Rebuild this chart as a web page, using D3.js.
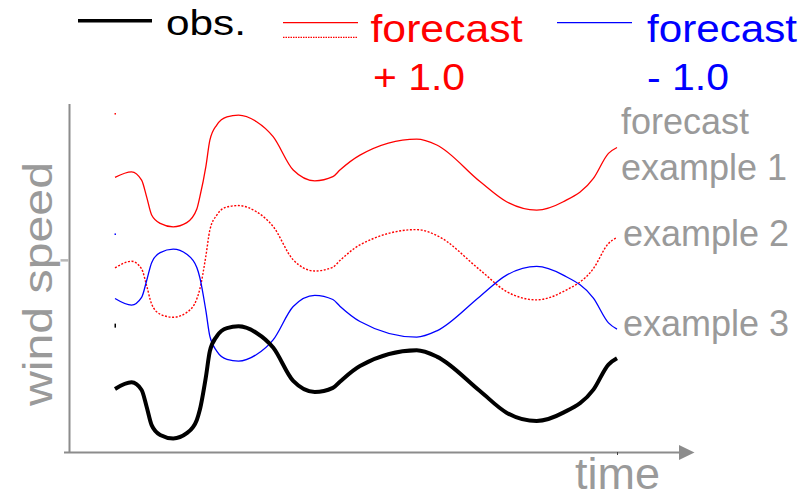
<!DOCTYPE html>
<html>
<head>
<meta charset="utf-8">
<script src="https://cdn.jsdelivr.net/npm/d3@7"></script>
<style>
  html, body { margin: 0; padding: 0; background: #fff; }
  svg { display: block; font-family: "Liberation Sans", Arial, sans-serif; }
</style>
</head>
<body>
<svg id="chart" width="805" height="499"></svg>
<script>
// ---------- data ----------
const time = [0, 3.3, 5.3, 6.3, 7.3, 9.0, 11.6, 14.3, 16.3, 16.9, 18.1, 18.9, 20.3, 22.3, 24.6,
  28.2, 31.5, 35.5, 39.8, 43.4, 44.8, 48.8, 60.1, 64.1, 72.7, 78.0, 84.0, 89.3, 95.3, 98.3, 100];

const obs = [18.4, 20.3, 18.1, 13.3, 8.0, 5.2, 4.2, 5.7, 9.5, 12.4, 21.8, 29.3, 33.6, 35.9, 36.4,
  34.5, 30.3, 20.7, 17.5, 18.7, 20.5, 25.0, 29.5, 27.7, 17.8, 11.6, 9.2, 11.6, 18.2, 25.4, 27.2];

const example1 = [79.2, 80.8, 78.4, 73.6, 68.4, 66.0, 65.0, 66.2, 70.1, 73.6, 82.3, 89.9, 94.3, 96.6, 97.1,
  95.2, 90.9, 81.3, 78.2, 79.4, 81.3, 85.6, 90.2, 88.5, 78.0, 72.2, 69.8, 72.2, 78.9, 86.1, 87.8];

const example2 = [53.2, 55.1, 52.9, 48.1, 42.8, 39.9, 39.0, 40.4, 44.3, 47.1, 56.6, 64.1, 68.4, 70.7, 71.1,
  69.3, 65.1, 55.5, 52.3, 53.4, 55.3, 59.8, 64.2, 62.5, 52.6, 46.4, 44.0, 46.4, 53.0, 60.2, 61.9];

const example3 = [44.4, 42.5, 44.7, 49.5, 54.7, 57.6, 58.6, 57.1, 53.3, 50.4, 40.9, 33.5, 29.2, 26.9, 26.4,
  28.3, 32.5, 42.1, 45.3, 44.1, 42.2, 37.8, 33.3, 35.1, 45.0, 51.1, 53.6, 51.1, 44.5, 37.4, 35.6];

const startMarks = [97.4, 62.8, 36.6];
const startMarkColors = ["#ff0000", "#0000ff", "#000000"];

const legendLabels = ["obs.", "forecast", "+ 1.0", "forecast", "- 1.0"];
const exampleLabels = ["forecast", "example 1", "example 2", "example 3"];
const xLabel = "time";
const yLabel = "wind speed";
const xTicks = [100];
const yTicks = [55.5];

// ---------- scales ----------
const svg = d3.select("#chart");
const x = d3.scaleLinear().domain([0, 100]).range([115, 617]);
const y = d3.scaleLinear().domain([0, 100]).range([453, 105]);

const RED = "#ff0000", BLUE = "#0000ff", GRAY_AX = "#8c8c8c", GRAY_TXT = "#9a9a9a";

// ---------- axes ----------
svg.append("line").attr("x1", 69.5).attr("x2", 69.5).attr("y1", 104).attr("y2", 453)
  .attr("stroke", GRAY_AX).attr("stroke-width", 2);
svg.append("line").attr("x1", 64).attr("x2", 681).attr("y1", 452.5).attr("y2", 452.5)
  .attr("stroke", GRAY_AX).attr("stroke-width", 2);
svg.append("path").attr("d", "M679,445 L694.5,452.5 L679,460 Z").attr("fill", GRAY_AX);

const xAxis = d3.axisBottom(x).tickValues(xTicks).tickSize(3).tickFormat("");
const gx = svg.append("g").attr("transform", "translate(0,452)").call(xAxis);
gx.select(".domain").remove();
gx.selectAll("line").attr("stroke", "#444").attr("stroke-width", 1);

const yAxis = d3.axisLeft(y).tickValues(yTicks).tickSize(8).tickFormat("");
const gy = svg.append("g").attr("transform", "translate(68.5,0)").call(yAxis);
gy.select(".domain").remove();
gy.selectAll("line").attr("stroke", "#b8b8b8").attr("stroke-width", 2.5);

svg.append("text").attr("x", 575).attr("y", 489).attr("font-size", 45)
  .attr("fill", GRAY_TXT).text(xLabel);
svg.append("text")
  .attr("transform", "translate(52,406) rotate(-90)")
  .attr("font-size", 40).attr("fill", GRAY_TXT)
  .attr("textLength", 244).attr("lengthAdjust", "spacingAndGlyphs")
  .text(yLabel);

// ---------- lines ----------
const line = (vals) => d3.line()
  .x((d, i) => x(time[i]))
  .y(d => y(d))
  .curve(d3.curveMonotoneX)(vals);

svg.append("path").attr("d", line(example1)).attr("fill", "none")
  .attr("stroke", RED).attr("stroke-width", 1.3);
svg.append("path").attr("d", line(example2)).attr("fill", "none")
  .attr("stroke", RED).attr("stroke-width", 1.4).attr("stroke-dasharray", "2,1.6");
svg.append("path").attr("d", line(example3)).attr("fill", "none")
  .attr("stroke", BLUE).attr("stroke-width", 1.3);
svg.append("path").attr("d", line(obs)).attr("fill", "none")
  .attr("stroke", "#000").attr("stroke-width", 4).attr("stroke-linejoin", "round");

svg.selectAll("rect.sm").data(startMarks).enter().append("rect")
  .attr("class", "sm")
  .attr("x", x(0) - 0.5)
  .attr("y", (d, i) => y(d) - (i === 2 ? 2 : 1))
  .attr("width", 1.5)
  .attr("height", (d, i) => i === 2 ? 4 : 1.5)
  .attr("fill", (d, i) => startMarkColors[i]);

// ---------- legend ----------
svg.append("line").attr("x1", 78).attr("x2", 152).attr("y1", 20.7).attr("y2", 20.7)
  .attr("stroke", "#000").attr("stroke-width", 3.5);
svg.append("text").attr("x", 166).attr("y", 35).attr("font-size", 35)
  .attr("textLength", 80).attr("lengthAdjust", "spacingAndGlyphs").attr("fill", "#000").text(legendLabels[0]);

svg.append("line").attr("x1", 283).attr("x2", 358).attr("y1", 22.7).attr("y2", 22.7)
  .attr("stroke", RED).attr("stroke-width", 1.2);
svg.append("line").attr("x1", 283).attr("x2", 358).attr("y1", 37.3).attr("y2", 37.3)
  .attr("stroke", RED).attr("stroke-width", 1.2).attr("stroke-dasharray", "1.5,1");
svg.append("text").attr("x", 370.5).attr("y", 41.5).attr("font-size", 38)
  .attr("textLength", 152).attr("lengthAdjust", "spacingAndGlyphs").attr("fill", RED).text(legendLabels[1]);
svg.append("text").attr("x", 373).attr("y", 90).attr("font-size", 36)
  .attr("textLength", 92).attr("lengthAdjust", "spacingAndGlyphs").attr("fill", RED).text(legendLabels[2]);

svg.append("line").attr("x1", 557).attr("x2", 632).attr("y1", 22.7).attr("y2", 22.7)
  .attr("stroke", BLUE).attr("stroke-width", 1.2);
svg.append("text").attr("x", 647).attr("y", 41.5).attr("font-size", 38)
  .attr("textLength", 150).attr("lengthAdjust", "spacingAndGlyphs").attr("fill", BLUE).text(legendLabels[3]);
svg.append("text").attr("x", 647).attr("y", 90).attr("font-size", 36)
  .attr("textLength", 82).attr("lengthAdjust", "spacingAndGlyphs").attr("fill", BLUE).text(legendLabels[4]);

// ---------- example labels ----------
const exX = [621, 621, 623, 623];
const exY = [134, 180, 246, 336];
svg.selectAll("text.ex").data(exampleLabels).enter().append("text")
  .attr("class", "ex")
  .attr("x", (d, i) => exX[i]).attr("y", (d, i) => exY[i])
  .attr("font-size", 36).attr("fill", GRAY_TXT)
  .text(d => d);
</script>
</body>
</html>
